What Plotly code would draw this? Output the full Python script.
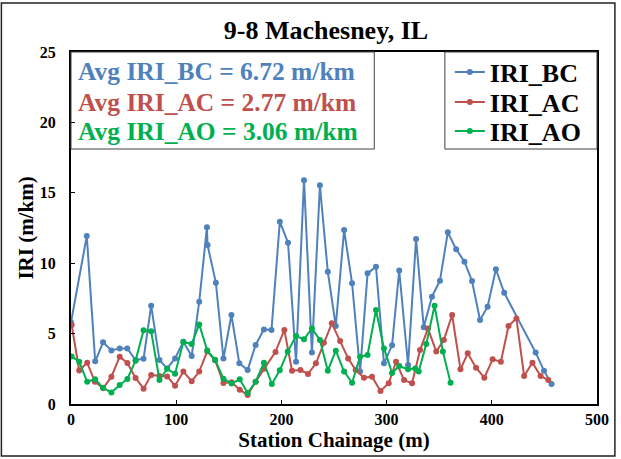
import plotly.graph_objects as go

# ---------------- data ----------------
bc_x = [0, 15, 23, 30.5, 38.4, 46.3, 53.5, 61.4, 69, 76.2, 84.1, 91.4, 98.9, 106.8, 114.7,
        121.9, 129.2, 129.8, 137.7, 144.9, 152.5, 160, 167.9, 175.5, 183.4, 190.6, 198.5,
        206.3, 213.9, 221.5, 229, 236.6, 244.1, 251.7, 259.6, 267.2, 274.8, 281.9, 289.9,
        297.5, 305.2, 312, 320.4, 328, 335.3, 343.1, 350.7, 358.2, 366.1, 374, 381.2, 388.8,
        396, 403.9, 411.8, 441.7, 449.6, 456.8]
bc_y = [5.8, 11.93, 3.03, 4.38, 3.8, 3.95, 3.95, 3.12, 3.22, 6.98, 3.12, 2.53, 3.24, 4.43, 3.41,
        7.27, 12.55, 11.29, 8.62, 3.24, 6.32, 2.89, 2.41, 4.19, 5.3, 5.26, 12.95,
        11.46, 3.0, 15.9, 3.65, 15.53, 9.4, 5.54, 12.36, 8.57, 2.3, 9.28, 9.75,
        2.89, 4.17, 9.48, 2.77, 11.72, 5.45, 7.62, 8.76, 12.19, 10.99, 10.11, 8.74, 5.97,
        6.91, 9.57, 7.9, 3.65, 2.37, 1.42]

ac_x = [0.6, 7.8, 15.4, 22.7, 30.6, 38.4, 46.3, 53.6, 61.4, 69, 76.2, 84.1, 91.4, 98.9, 106.8,
        114.7, 121.9, 129.5, 137, 144.9, 152.6, 160.4, 167.9, 175.5, 183.4, 194.4, 202.8,
        210.1, 218.1, 225.3, 232.8, 240.4, 247.9, 255.8, 263.4, 270.6, 278.5, 286.1, 294.2,
        302, 309, 316.6, 324.2, 331.8, 339.3, 347.2, 354.4, 362.3, 370.2, 377.1, 385, 392.9,
        400.8, 408.6, 415.9, 423.4, 430.7, 438.6, 446.4, 453.7]
ac_y = [5.61, 2.38, 2.93, 1.58, 1.11, 1.94, 3.36, 2.91, 1.85, 1.09, 2.06, 1.99, 1.96, 1.3, 2.3,
        1.62, 2.3, 3.74, 3.1, 1.49, 1.55, 1.02, 0.64, 1.58, 2.5, 3.7, 5.26,
        2.37, 2.41, 2.13, 2.89, 4.35, 5.73, 4.47, 3.24, 2.41, 1.87, 1.94, 0.93,
        1.47, 3.0, 1.7, 1.47, 3.83, 5.37, 3.72, 4.55, 6.32, 2.46, 3.6, 2.58, 1.87,
        3.17, 3.0, 5.54, 6.08, 1.99, 2.93, 1.99, 1.7]

ao_x = [0.6, 7.8, 15.4, 23, 30.5, 38.4, 46.3, 53.6, 61.4, 69, 76.2, 84.1, 91.4, 98.9, 106.8,
        114.6, 121.9, 129.5, 137, 144.9, 152.6, 160.4, 167.9, 175.5, 183.4, 190.9, 198.5,
        206, 213.9, 221.5, 229, 236.6, 244.1, 251.7, 259.6, 267.2, 274.8, 281.9, 289.9,
        297.5, 305.2, 312, 320.4, 327.3, 330.5, 337.7, 345.6, 353.5, 360.8]
ao_y = [3.38, 3.0, 1.58, 1.76, 1.15, 0.82, 1.35, 1.78, 3.08, 5.23, 5.17, 1.7, 2.5, 2.15, 4.4,
        4.26, 5.65, 3.8, 3.14, 1.8, 1.45, 1.75, 0.78, 1.58, 2.93, 1.42, 2.39,
        3.72, 4.83, 4.59, 5.37, 4.55, 2.37, 3.79, 2.3, 1.51, 3.36, 3.48, 6.68,
        3.95, 2.2, 2.7, 2.46, 2.53, 2.3, 4.26, 6.98, 3.72, 1.51]

series_names = ["IRI_BC", "IRI_AC", "IRI_AO"]
series_colors = ["#4F81BD", "#C0504D", "#00B050"]
avg_labels = ["Avg IRI_BC = 6.72 m/km", "Avg IRI_AC = 2.77 m/km", "Avg IRI_AO = 3.06 m/km"]
x_ticks = [0, 100, 200, 300, 400, 500]
y_ticks = [0, 5, 10, 15, 20, 25]

title_text = "9-8 Machesney, IL"
x_title = "Station Chainage (m)"
y_title = "IRI (m/km)"

FONT = "Liberation Serif, Times New Roman, serif"

W, H = 621, 459
L, R, T, B = 71, 21, 52, 55
pw, ph = W - L - R, H - T - B


def px2x(p):
    return (p - L) / pw


def px2y(p):
    return (H - B - p) / ph


def bold(s):
    return "<b>" + s + "</b>"


# ---------------- figure ----------------
fig = go.Figure()
legend_ids = ["legend", "legend2", "legend3"]
for xs, ys, name, col, lg in zip([bc_x, ac_x, ao_x], [bc_y, ac_y, ao_y], series_names,
                                 series_colors, legend_ids):
    fig.add_trace(go.Scatter(
        x=xs, y=ys, name=bold(name), mode="lines+markers",
        line=dict(color=col, width=2),
        marker=dict(color=col, size=6),
        legend=lg,
    ))

shapes = [
    # outer chart border
    dict(type="rect", xref="paper", yref="paper",
         x0=px2x(1), x1=px2x(618), y0=px2y(456), y1=px2y(3),
         line=dict(color="#222222", width=1.5), fillcolor="rgba(0,0,0,0)"),
    # averages box
    dict(type="rect", xref="paper", yref="paper",
         x0=0, x1=px2x(376), y0=px2y(149), y1=1,
         line=dict(color="#404040", width=1), fillcolor="rgba(0,0,0,0)"),
    # legend box
    dict(type="rect", xref="paper", yref="paper",
         x0=px2x(447), x1=1, y0=px2y(149), y1=1,
         line=dict(color="#404040", width=1), fillcolor="rgba(0,0,0,0)"),
]

annotations = []
for lbl, col, yy in zip(avg_labels, series_colors, [72, 102, 131]):
    annotations.append(dict(
        text=bold(lbl), xref="paper", yref="paper", x=px2x(76), y=px2y(yy),
        xanchor="left", yanchor="middle", showarrow=False,
        font=dict(family=FONT, size=25.5, color=col),
    ))

legend_font = dict(family=FONT, size=26, color="black", weight="bold")
legend_common = dict(xanchor="left", yanchor="middle", bgcolor="rgba(0,0,0,0)",
                     borderwidth=0, itemwidth=30, font=legend_font)

fig.update_layout(
    width=W, height=H,
    margin=dict(l=L, r=R, t=T, b=B, pad=0),
    paper_bgcolor="white", plot_bgcolor="white",
    title=dict(text=bold(title_text), x=326 / W, xanchor="center", y=1 - 30 / H,
               yanchor="middle", font=dict(family=FONT, size=26, color="black")),
    showlegend=True,
    legend=dict(x=px2x(452), y=px2y(72), **legend_common),
    legend2=dict(x=px2x(452), y=px2y(102), **legend_common),
    legend3=dict(x=px2x(452), y=px2y(131), **legend_common),
    shapes=shapes,
    annotations=annotations,
    font=dict(family=FONT, color="black"),
)

fig.update_xaxes(
    range=[0, 500], tickvals=x_ticks, ticktext=[bold(str(v)) for v in x_ticks],
    showline=True, linecolor="black", linewidth=2, mirror=True,
    ticks="inside", ticklen=4, tickwidth=1, tickcolor="black",
    showgrid=False, zeroline=False,
    tickfont=dict(family=FONT, size=16, color="black"),
    title=dict(text=bold(x_title), font=dict(family=FONT, size=21, color="black"),
               standoff=2),
)
fig.update_yaxes(
    range=[0, 25], tickvals=y_ticks, ticktext=[bold(str(v)) for v in y_ticks],
    showline=True, linecolor="black", linewidth=2, mirror=True,
    ticks="inside", ticklen=4, tickwidth=1, tickcolor="black",
    showgrid=False, zeroline=False,
    tickfont=dict(family=FONT, size=16, color="black"),
    ticklabelstandoff=10,
    title=dict(text=bold(y_title), font=dict(family=FONT, size=21, color="black"),
               standoff=0),
)

fig.write_html("out.html")
